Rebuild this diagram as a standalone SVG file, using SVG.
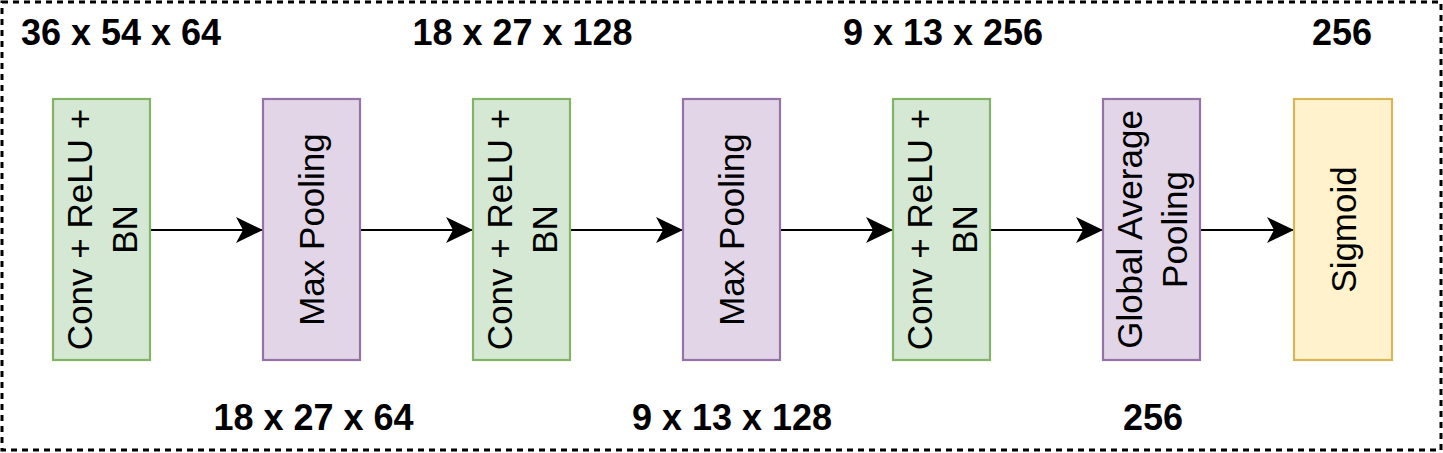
<svg xmlns="http://www.w3.org/2000/svg" width="1443" height="453" viewBox="0 0 1443 453">
<defs>
<marker id="arr" markerUnits="userSpaceOnUse" markerWidth="30" markerHeight="30" viewBox="-28 -14 30 28" refX="0" refY="0" orient="auto">
<path d="M0,0 L-27,-13 L-20,0 L-27,13 Z" fill="#000"/>
</marker>
</defs>
<style>
.frame{fill:none;stroke:#000;stroke-width:3;stroke-dasharray:6 5}
.g{fill:#d5e8d4;stroke:#82b366;stroke-width:2.2}
.p{fill:#e1d5e7;stroke:#9673a6;stroke-width:2.2}
.y{fill:#fff2cc;stroke:#d6b656;stroke-width:2.2}
.t{font-family:"Liberation Sans",Arial,sans-serif;font-size:35px;fill:#000;text-anchor:middle}
.d{font-family:"Liberation Sans",Arial,sans-serif;font-size:36px;font-weight:bold;fill:#000;text-anchor:middle}
.c{stroke:#000;stroke-width:2;fill:none;marker-end:url(#arr)}
</style>
<rect class="frame" x="2" y="2" width="1439" height="448"/>
<g id="labels">
<text class="d" x="121" y="45">36 x 54 x 64</text>
<text class="d" x="522.5" y="45">18 x 27 x 128</text>
<text class="d" x="943" y="45">9 x 13 x 256</text>
<text class="d" x="1342" y="45">256</text>
<text class="d" x="313.5" y="430">18 x 27 x 64</text>
<text class="d" x="732" y="430">9 x 13 x 128</text>
<text class="d" x="1153" y="430">256</text>
</g>
<g id="connectors">
<line class="c" x1="150" y1="230" x2="263" y2="230"/>
<line class="c" x1="360" y1="230" x2="473" y2="230"/>
<line class="c" x1="570" y1="230" x2="683" y2="230"/>
<line class="c" x1="780" y1="230" x2="893" y2="230"/>
<line class="c" x1="990" y1="230" x2="1103" y2="230"/>
<line class="c" x1="1200" y1="230" x2="1294" y2="230"/>
</g>
<g id="conv1">
<rect class="g" x="53" y="99" width="97" height="261"/>
<text class="t" transform="translate(101.5,229.5) rotate(-90)"><tspan x="0" y="-9.5">Conv + ReLU +</tspan><tspan x="0" y="35.5">BN</tspan></text>
</g>
<g id="pool1">
<rect class="p" x="263" y="99" width="97" height="261"/>
<text class="t" transform="translate(311.5,229.5) rotate(-90)"><tspan x="0" y="12.5">Max Pooling</tspan></text>
</g>
<g id="conv2">
<rect class="g" x="473" y="99" width="97" height="261"/>
<text class="t" transform="translate(521.5,229.5) rotate(-90)"><tspan x="0" y="-9.5">Conv + ReLU +</tspan><tspan x="0" y="35.5">BN</tspan></text>
</g>
<g id="pool2">
<rect class="p" x="683" y="99" width="97" height="261"/>
<text class="t" transform="translate(731.5,229.5) rotate(-90)"><tspan x="0" y="12.5">Max Pooling</tspan></text>
</g>
<g id="conv3">
<rect class="g" x="893" y="99" width="97" height="261"/>
<text class="t" transform="translate(941.5,229.5) rotate(-90)"><tspan x="0" y="-9.5">Conv + ReLU +</tspan><tspan x="0" y="35.5">BN</tspan></text>
</g>
<g id="gap">
<rect class="p" x="1103" y="99" width="97" height="261"/>
<text class="t" transform="translate(1151.5,229.5) rotate(-90)"><tspan x="0" y="-9.5">Global Average</tspan><tspan x="0" y="35.5">Pooling</tspan></text>
</g>
<g id="sigmoid">
<rect class="y" x="1294" y="99" width="98" height="261"/>
<text class="t" transform="translate(1343,229.5) rotate(-90)"><tspan x="0" y="12.5">Sigmoid</tspan></text>
</g>
</svg>
